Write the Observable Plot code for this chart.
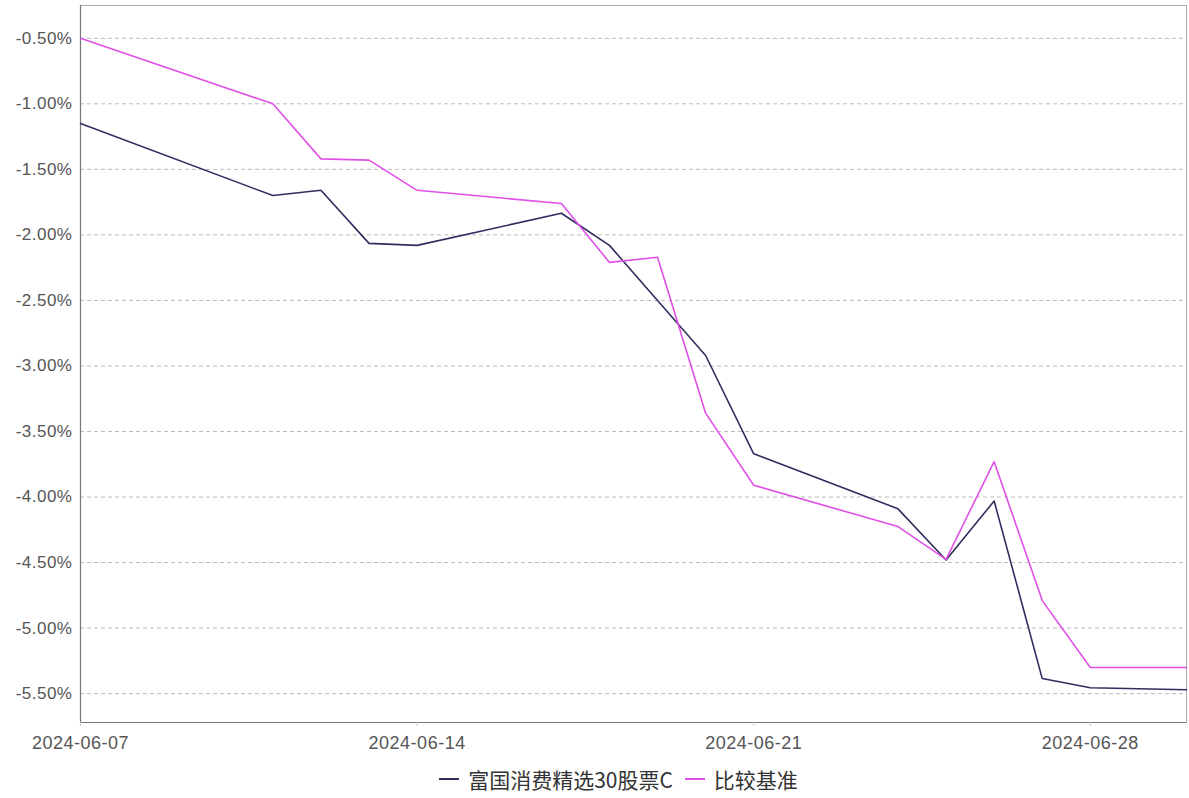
<!DOCTYPE html>
<html>
<head>
<meta charset="utf-8">
<script src="https://cdn.jsdelivr.net/npm/d3@7"></script>
<script src="https://cdn.jsdelivr.net/npm/@observablehq/plot@0.6"></script>
<style>
  body { margin: 0; background: #fff; font-family: "Liberation Sans", Arial, sans-serif; }
  #chart { width: 1189px; }
  .legend { display: flex; justify-content: center; align-items: center; height: 38px; font-family: "Noto Sans CJK SC", serif; font-size: 21px; color: #333; padding-left: 48px; }
  .legend .item { display: flex; align-items: center; margin: 0 6px; }
  .legend .sw { display: inline-block; width: 20px; height: 2.5px; margin-right: 9px; }
</style>
</head>
<body>
<div id="chart"></div>
<script>
const dates = ["2024-06-07","2024-06-11","2024-06-12","2024-06-13","2024-06-14","2024-06-17","2024-06-18","2024-06-19","2024-06-20","2024-06-21","2024-06-24","2024-06-25","2024-06-26","2024-06-27","2024-06-28","2024-06-30"];
const fundName = "富国消费精选30股票C";
const benchName = "比较基准";
const fundValues = [-1.15,-1.70,-1.66,-2.065,-2.08,-1.835,-2.08,-2.50,-2.92,-3.67,-4.09,-4.48,-4.03,-5.385,-5.455,-5.47];
const benchValues = [-0.50,-1.00,-1.42,-1.43,-1.66,-1.76,-2.21,-2.17,-3.36,-3.91,-4.225,-4.475,-3.73,-4.79,-5.30,-5.30];
const yTicks = [-0.5,-1.0,-1.5,-2.0,-2.5,-3.0,-3.5,-4.0,-4.5,-5.0,-5.5];
const xTickLabels = ["2024-06-07","2024-06-14","2024-06-21","2024-06-28"];
const colors = {[fundName]: "#2f2f5f", [benchName]: "#e050e6"};

const parse = d3.utcParse("%Y-%m-%d");
const rows = [];
dates.forEach((d, i) => {
  rows.push({date: parse(d), value: fundValues[i], series: fundName});
  rows.push({date: parse(d), value: benchValues[i], series: benchName});
});
const xDomain = [parse(dates[0]), parse(dates[dates.length - 1])];
const yDomain = [-5.72, -0.25];

const plot = Plot.plot({
  width: 1189,
  height: 760,
  marginLeft: 80,
  marginRight: 3,
  marginTop: 5,
  marginBottom: 38,
  style: {fontFamily: "'Liberation Sans', Arial, sans-serif", fontSize: "18px", color: "#555", background: "#fff", letterSpacing: "0.5px"},
  x: {type: "utc", domain: xDomain, label: null},
  y: {domain: yDomain, label: null},
  marks: [
    Plot.gridY(yTicks, {stroke: "#bbb", strokeOpacity: 1, strokeDasharray: "4,3"}),
    Plot.frame({stroke: "#aaa"}),
    Plot.ruleX([xDomain[0]], {stroke: "#777", strokeWidth: 1.2}),
    Plot.ruleY([yDomain[0]], {stroke: "#777", strokeWidth: 1.2}),
    Plot.axisY(yTicks, {tickSize: 0, tickPadding: 8, tickFormat: d => d.toFixed(2) + "%", fill: "#555", fontSize: 17, label: null}),
    Plot.axisX(xTickLabels.map(parse), {tickSize: 4, stroke: "#ccc", tickPadding: 10, tickFormat: d3.utcFormat("%Y-%m-%d"), fill: "#555", fontSize: 18, label: null}),
    Plot.line(rows, {x: "date", y: "value", z: "series", stroke: d => colors[d.series], strokeWidth: 1.6})
  ]
});
document.getElementById("chart").appendChild(plot);

const legend = document.createElement("div");
legend.className = "legend";
[fundName, benchName].forEach(name => {
  const item = document.createElement("span");
  item.className = "item";
  const sw = document.createElement("span");
  sw.className = "sw";
  sw.style.background = colors[name];
  item.appendChild(sw);
  item.appendChild(document.createTextNode(name));
  legend.appendChild(item);
});
document.getElementById("chart").appendChild(legend);
</script>
</body>
</html>
